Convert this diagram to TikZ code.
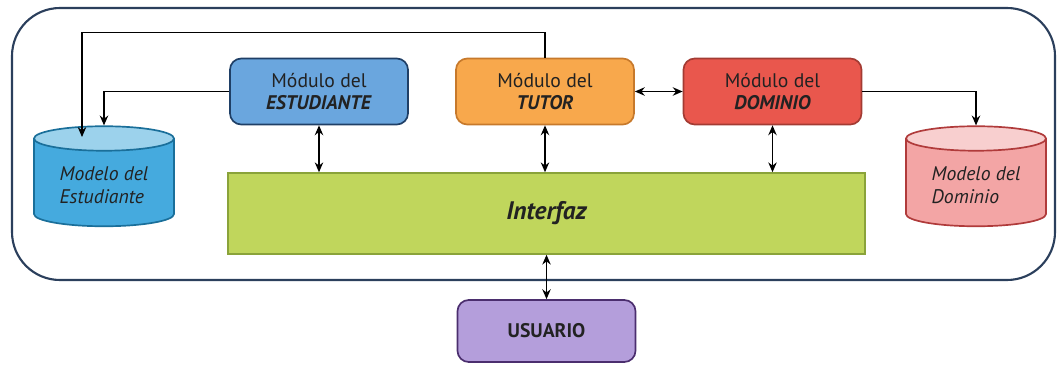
\documentclass[tikz,border=0pt]{standalone}
\usepackage{fontspec}
\setmainfont{PT Sans}
\usetikzlibrary{shapes.geometric,arrows.meta}
\definecolor{marco}{HTML}{2B3F5C}
\definecolor{estfill}{HTML}{6AA6DE}
\definecolor{estline}{HTML}{1F3F66}
\definecolor{tutfill}{HTML}{F8A84C}
\definecolor{tutline}{HTML}{C7792B}
\definecolor{domfill}{HTML}{E9574D}
\definecolor{domline}{HTML}{A33B33}
\definecolor{mestbody}{HTML}{45AADE}
\definecolor{mesttop}{HTML}{9CD2EC}
\definecolor{mestline}{HTML}{1A6F9A}
\definecolor{mdombody}{HTML}{F3A5A5}
\definecolor{mdomtop}{HTML}{F8CFCF}
\definecolor{mdomline}{HTML}{B03B3B}
\definecolor{intfill}{HTML}{C0D65C}
\definecolor{intline}{HTML}{8AA33A}
\definecolor{usrfill}{HTML}{B49EDB}
\definecolor{usrline}{HTML}{4B2E6E}
\definecolor{texto}{HTML}{222222}
\begin{document}
\begin{tikzpicture}[x=0.025cm,y=-0.025cm]
\tikzstyle{modulo}=[draw,rounded corners=8pt,line width=1.2pt,minimum width=4.45cm,minimum height=1.65cm,align=center,text=texto,font=\fontsize{14}{16}\selectfont]
\tikzstyle{modelo}=[cylinder,shape border rotate=90,aspect=0.25,draw,line width=1.2pt,minimum width=3.5cm,minimum height=2.5cm,cylinder uses custom fill,align=left,text=texto,font=\fontsize{14}{16}\selectfont\itshape]
\tikzstyle{flecha}=[-{Stealth[length=7pt,width=6pt]},line width=1pt]
\tikzstyle{doble}=[{Stealth[length=7pt,width=6pt]}-{Stealth[length=7pt,width=6pt]},line width=1pt]
\useasboundingbox (0,0) rectangle (1063,368);
\draw[marco,line width=1.5pt,rounded corners=1.2cm] (12,8) rectangle (1055,280);
% modulos
\foreach \name/\point/\col/\tit in {
	est/{319,91.5}/est/ESTUDIANTE,
	tut/{545,91.5}/tut/TUTOR,
	dom/{772.5,91.5}/dom/DOMINIO}
	\node[modulo,fill=\col fill,draw=\col line] (\name) at (\point) {Módulo del\\\textbf{\textit{\tit}}};
% modelos
\node[modelo,cylinder body fill=mestbody,cylinder end fill=mesttop,draw=mestline] (mest) at (104,185) {Modelo del\\Estudiante};
\node[modelo,cylinder body fill=mdombody,cylinder end fill=mdomtop,draw=mdomline] (mdom) at (976,185) {Modelo del\\Dominio};
\coordinate (mestA) at (82,137);
% interfaz y usuario
\node[draw=intline,fill=intfill,line width=1.2pt,minimum width=15.92cm,minimum height=2.02cm,text=texto,font=\fontsize{18}{20}\selectfont\bfseries\itshape] (int) at (546.5,213.5) {Interfaz};
\node[modulo,fill=usrfill,draw=usrline,minimum height=1.55cm,font=\fontsize{14}{16}\selectfont\bfseries] (usr) at (546.5,331) {USUARIO};
% conexiones
\draw[flecha] (tut.north) -- ++(0,-25) -| (mestA);
\draw[flecha] (est.west) -| (mest.north);
\draw[flecha] (dom.east) -| (mdom.north);
\draw[doble] (tut.east) -- (dom.west);
\foreach \m in {est,tut,dom}
	\draw[doble] (\m.south) -- (\m.south |- int.north);
\draw[doble] (int.south) -- (usr.north);
\end{tikzpicture}
\end{document}
